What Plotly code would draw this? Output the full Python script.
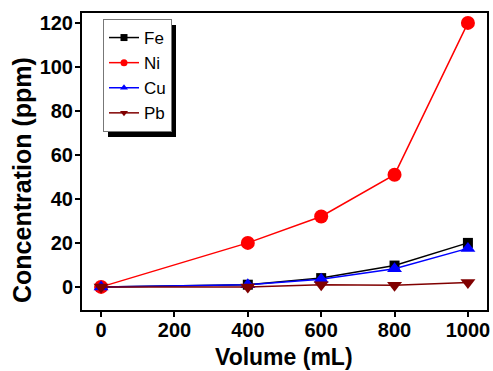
import plotly.graph_objects as go

volume = [0, 400, 600, 800, 1000]
fe = [0, 1, 4, 9.7, 20]
ni = [0, 20, 32, 51, 120]
cu = [0, 1, 3.5, 8.3, 17.5]
pb = [0, 0, 1, 0.7, 2]

series = [
    ("Fe", fe, "#000000", "square", 10),
    ("Ni", ni, "#ff0000", "circle", 14),
    ("Cu", cu, "#0000ff", "triangle-up", 13),
    ("Pb", pb, "#800000", "triangle-down", 13),
]

xticks = [0, 200, 400, 600, 800, 1000]
yticks = [0, 20, 40, 60, 80, 100, 120]
x_title = "Volume (mL)"
y_title = "Concentration (ppm)"

FONT = "Liberation Sans, Arial, sans-serif"

fig = go.Figure()
for name, vals, color, sym, size in series:
    fig.add_trace(go.Scatter(
        x=volume, y=vals, mode="lines+markers", name=name, showlegend=False,
        line=dict(color=color, width=1.5),
        marker=dict(symbol=sym, size=size, color=color),
    ))
for name, vals, color, sym, size in series:
    fig.add_trace(go.Scatter(
        x=[None], y=[None], mode="lines+markers", name=name, showlegend=True,
        line=dict(color=color, width=1.5),
        marker=dict(symbol=sym, size=7, color=color),
    ))

L, R, T, B = 82, 487, 13, 310
W, H = R - L, B - T
def px2x(px):
    return (px - L) / W
def px2y(py):
    return (B - py) / H

# legend shadow
fig.add_shape(type="rect", xref="paper", yref="paper",
              x0=px2x(108), x1=px2x(176), y0=px2y(137), y1=px2y(25),
              fillcolor="black", line=dict(width=0), layer="above")

axis_common = dict(
    showline=True, linecolor="black", linewidth=2, mirror=True,
    ticks="outside", ticklen=5, tickwidth=1.5, tickcolor="black",
    showgrid=False, zeroline=False, automargin=False,
    tickfont=dict(family=FONT, size=20, color="black", weight="bold"),
)

fig.add_annotation(text=x_title, xref="paper", yref="paper",
                   x=px2x(284), y=px2y(357), showarrow=False,
                   xanchor="center", yanchor="middle",
                   font=dict(family=FONT, size=23, color="black", weight="bold"))
fig.add_annotation(text=y_title, xref="paper", yref="paper",
                   x=px2x(22), y=px2y(180), showarrow=False, textangle=-90,
                   xanchor="center", yanchor="middle",
                   font=dict(family=FONT, size=25, color="black", weight="bold"))

fig.update_layout(
    width=493, height=371,
    margin=dict(l=L, r=493 - R, t=T, b=371 - B),
    paper_bgcolor="white", plot_bgcolor="white",
    font=dict(family=FONT, color="black"),
    xaxis=dict(range=[-52, 1052], tickvals=xticks, ticktext=[str(v) for v in xticks],
               ticklabelstandoff=-4, **axis_common),
    yaxis=dict(range=[-10.5, 124.5], tickvals=yticks, ticktext=[str(v) for v in yticks],
               ticklabelstandoff=-2, **axis_common),
    legend=dict(x=px2x(103), y=px2y(19), xanchor="left", yanchor="top",
                bgcolor="white", bordercolor="#777777", borderwidth=1,
                font=dict(family=FONT, size=17, color="black"),
                tracegroupgap=0, itemwidth=30),
)

fig.write_html("out.html", config={"displayModeBar": False},
               post_script="document.body.style.margin='0';document.body.style.padding='0';document.body.style.overflow='hidden';")
